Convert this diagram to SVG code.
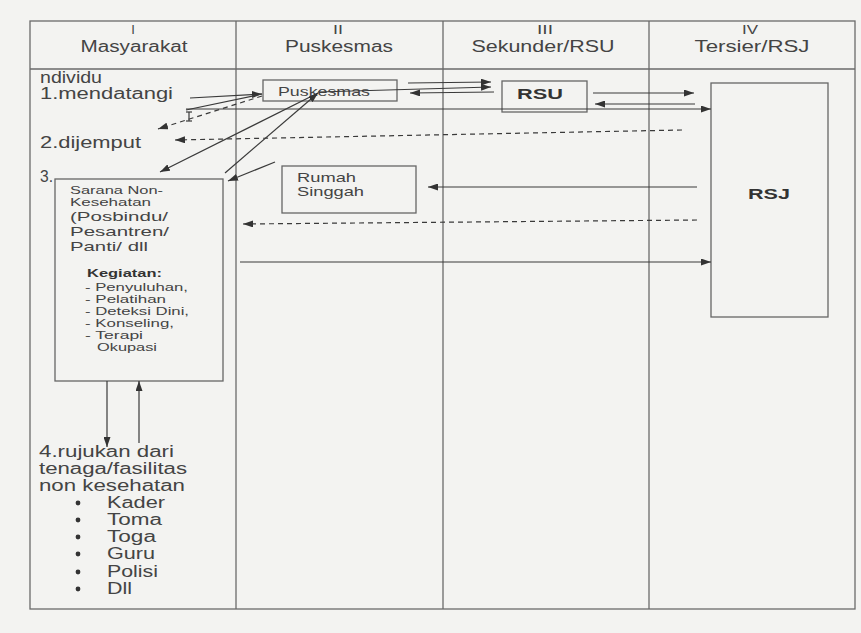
<svg xmlns="http://www.w3.org/2000/svg" width="861" height="633" viewBox="0 0 861 633">
<style>
text{font-family:"Liberation Sans",Arial,sans-serif;fill:#444}
.h{font-size:16px;text-anchor:middle}
.n{font-size:13px;text-anchor:middle}
.l{font-size:16px}
.s{font-size:11px}
.m{font-size:13px}
.b{font-weight:bold;fill:#333}
.frame{fill:none;stroke:#6a6a6a;stroke-width:1.3}
.box{fill:none;stroke:#666;stroke-width:1.3}
.c line{stroke:#3a3a3a;stroke-width:1.2;fill:none}
.c .d{stroke-dasharray:5 4}
</style>
<defs>
<marker id="ah" markerUnits="userSpaceOnUse" markerWidth="10" markerHeight="7" refX="10" refY="3.5" orient="auto">
<path d="M0,0 L10,3.5 L0,7 z" fill="#333"/>
</marker>
</defs>
<rect x="0" y="0" width="861" height="633" fill="#f3f3f1"/>
<g id="table">
<rect x="30" y="21" width="825" height="588" fill="#eeeeec" class="frame"/>
<line x1="30" y1="69" x2="855" y2="69" class="frame"/>
<line x1="236" y1="21" x2="236" y2="609" class="frame"/>
<line x1="443" y1="21" x2="443" y2="609" class="frame"/>
<line x1="649" y1="21" x2="649" y2="609" class="frame"/>
<text class="n" x="133" y="34">I</text>
<text class="h" x="134" y="52" textLength="107" lengthAdjust="spacingAndGlyphs">Masyarakat</text>
<text class="n" x="338" y="34" textLength="10" lengthAdjust="spacingAndGlyphs">II</text>
<text class="h" x="339" y="52" textLength="108" lengthAdjust="spacingAndGlyphs">Puskesmas</text>
<text class="n" x="545" y="34" textLength="16" lengthAdjust="spacingAndGlyphs">III</text>
<text class="h" x="543" y="52" textLength="143" lengthAdjust="spacingAndGlyphs">Sekunder/RSU</text>
<text class="n" x="750" y="34" textLength="16" lengthAdjust="spacingAndGlyphs">IV</text>
<text class="h" x="752" y="52" textLength="115" lengthAdjust="spacingAndGlyphs">Tersier/RSJ</text>
</g>
<g id="masyarakat-text">
<text class="l" x="40" y="83" textLength="62" lengthAdjust="spacingAndGlyphs">ndividu</text>
<text class="l" x="40" y="99" textLength="133" lengthAdjust="spacingAndGlyphs">1.mendatangi</text>
<text class="l" x="40" y="148" textLength="101" lengthAdjust="spacingAndGlyphs">2.dijemput</text>
<text class="l" x="40" y="182" textLength="13" lengthAdjust="spacingAndGlyphs">3.</text>
</g>
<g id="puskesmas">
<rect x="263" y="80" width="134" height="21" class="box"/>
<text x="278" y="96" style="font-size:12.5px" textLength="92" lengthAdjust="spacingAndGlyphs">Puskesmas</text>
</g>
<g id="rsu">
<rect x="502" y="81" width="85" height="31" class="box"/>
<text class="b" x="540" y="99" style="font-size:15px;text-anchor:middle" textLength="46" lengthAdjust="spacingAndGlyphs">RSU</text>
</g>
<g id="rsj">
<rect x="711" y="83" width="117" height="234" class="box"/>
<text class="b" x="769" y="199" style="font-size:15px;text-anchor:middle" textLength="42" lengthAdjust="spacingAndGlyphs">RSJ</text>
</g>
<g id="rumah-singgah">
<rect x="282" y="166" width="134" height="47" class="box"/>
<text x="297" y="182" style="font-size:13px" textLength="59" lengthAdjust="spacingAndGlyphs">Rumah</text>
<text x="297" y="196" style="font-size:13px" textLength="67" lengthAdjust="spacingAndGlyphs">Singgah</text>
</g>
<g id="sarana">
<rect x="55" y="179" width="168" height="202" class="box"/>
<text class="s" x="70" y="194" textLength="93" lengthAdjust="spacingAndGlyphs">Sarana Non-</text>
<text class="s" x="70" y="206" textLength="81" lengthAdjust="spacingAndGlyphs">Kesehatan</text>
<text class="m" x="70" y="221" textLength="98" lengthAdjust="spacingAndGlyphs">(Posbindu/</text>
<text class="m" x="70" y="236" textLength="99" lengthAdjust="spacingAndGlyphs">Pesantren/</text>
<text class="m" x="70" y="251" textLength="78" lengthAdjust="spacingAndGlyphs">Panti/ dll</text>
<text class="s b" x="87" y="277" textLength="75" lengthAdjust="spacingAndGlyphs">Kegiatan:</text>
<text class="s" x="85" y="291" textLength="103" lengthAdjust="spacingAndGlyphs">- Penyuluhan,</text>
<text class="s" x="85" y="303" textLength="81" lengthAdjust="spacingAndGlyphs">- Pelatihan</text>
<text class="s" x="85" y="315" textLength="104" lengthAdjust="spacingAndGlyphs">- Deteksi Dini,</text>
<text class="s" x="85" y="327" textLength="89" lengthAdjust="spacingAndGlyphs">- Konseling,</text>
<text class="s" x="85" y="339" textLength="58" lengthAdjust="spacingAndGlyphs">- Terapi</text>
<text class="s" x="97" y="351" textLength="60" lengthAdjust="spacingAndGlyphs">Okupasi</text>
</g>
<g id="rujukan">
<text class="l" x="39" y="457" textLength="135" lengthAdjust="spacingAndGlyphs">4.rujukan dari</text>
<text class="l" x="39" y="474" textLength="148" lengthAdjust="spacingAndGlyphs">tenaga/fasilitas</text>
<text class="l" x="39" y="491" textLength="146" lengthAdjust="spacingAndGlyphs">non kesehatan</text>
<g fill="#333">
<circle cx="78" cy="503" r="2.4"/>
<circle cx="78" cy="520" r="2.4"/>
<circle cx="78" cy="537" r="2.4"/>
<circle cx="78" cy="554" r="2.4"/>
<circle cx="78" cy="572" r="2.4"/>
<circle cx="78" cy="589" r="2.4"/>
</g>
<text class="l" x="107" y="508" textLength="58" lengthAdjust="spacingAndGlyphs">Kader</text>
<text class="l" x="107" y="525" textLength="55" lengthAdjust="spacingAndGlyphs">Toma</text>
<text class="l" x="107" y="542" textLength="49" lengthAdjust="spacingAndGlyphs">Toga</text>
<text class="l" x="107" y="559" textLength="48" lengthAdjust="spacingAndGlyphs">Guru</text>
<text class="l" x="107" y="577" textLength="51" lengthAdjust="spacingAndGlyphs">Polisi</text>
<text class="l" x="107" y="594" textLength="25" lengthAdjust="spacingAndGlyphs">Dll</text>
</g>
<g id="connectors" class="c">
<line x1="190" y1="98" x2="262" y2="94" marker-end="url(#ah)"/>
<line x1="186" y1="110" x2="262" y2="94"/>
<line x1="186" y1="109" x2="711" y2="109" marker-end="url(#ah)"/>
<line x1="189" y1="112" x2="189" y2="121"/>
<line x1="186" y1="112" x2="192" y2="112"/>
<line x1="186" y1="121" x2="192" y2="121"/>
<line class="d" x1="262" y1="96" x2="158" y2="129" marker-end="url(#ah)"/>
<line class="d" x1="682" y1="130" x2="175" y2="140" marker-end="url(#ah)"/>
<line x1="318" y1="93" x2="160" y2="172" marker-end="url(#ah)"/>
<line x1="225" y1="173" x2="318" y2="93" marker-end="url(#ah)"/>
<line x1="275" y1="162" x2="228" y2="181" marker-end="url(#ah)"/>
<line x1="408" y1="83" x2="491" y2="82" marker-end="url(#ah)"/>
<line x1="318" y1="92" x2="491" y2="87" marker-end="url(#ah)"/>
<line x1="494" y1="92" x2="410" y2="93" marker-end="url(#ah)"/>
<line x1="593" y1="93" x2="694" y2="93" marker-end="url(#ah)"/>
<line x1="695" y1="104" x2="595" y2="104" marker-end="url(#ah)"/>
<line x1="697" y1="187" x2="428" y2="187" marker-end="url(#ah)"/>
<line class="d" x1="697" y1="220" x2="243" y2="224" marker-end="url(#ah)"/>
<line x1="240" y1="262" x2="711" y2="262" marker-end="url(#ah)"/>
<line x1="107" y1="381" x2="107" y2="447" marker-end="url(#ah)"/>
<line x1="139" y1="443" x2="139" y2="381" marker-end="url(#ah)"/>
</g>
</svg>
